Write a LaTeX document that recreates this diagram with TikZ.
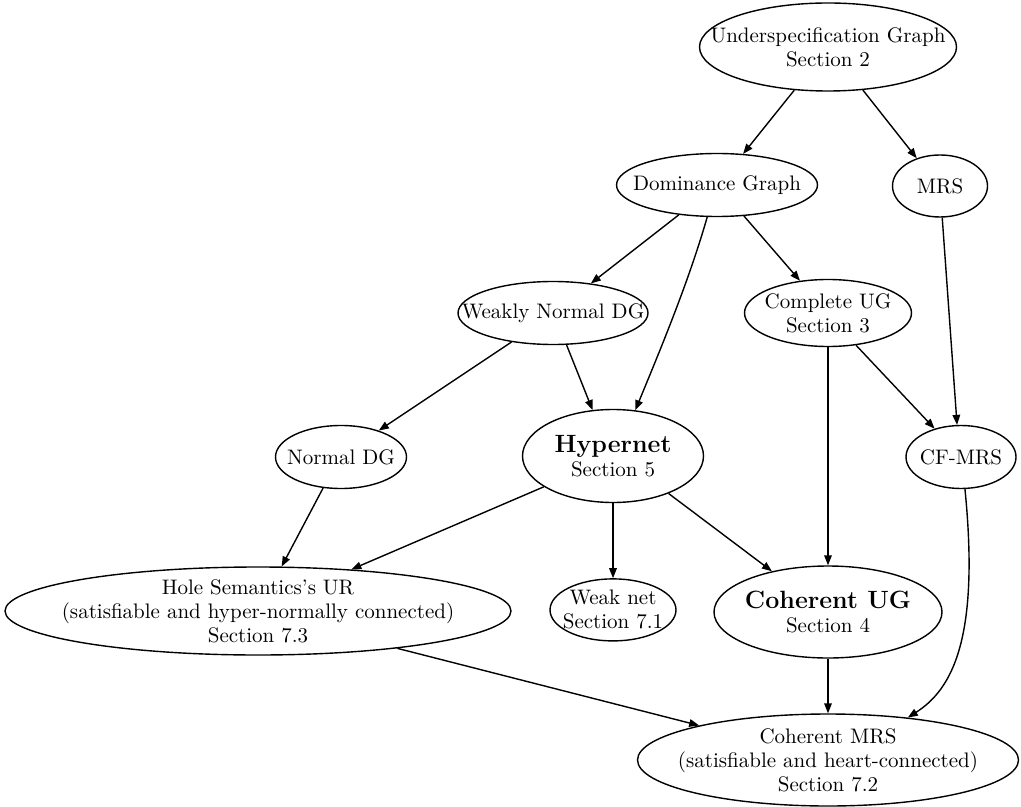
\documentclass[tikz,border=0pt]{standalone}
\usepackage{amsmath}
\usetikzlibrary{arrows.meta,shapes.geometric,positioning}

\tikzset{
	topic/.style={draw, ellipse, align=center, inner sep=-30pt, line width=0.7pt,
		font=\fontsize{10.5}{12}\selectfont},
	dep/.style={-{Triangle[length=5pt,width=3.8pt]}, line width=0.7pt},
}
\newcommand{\keyname}[1]{{\fontsize{12.5}{14}\selectfont\bfseries #1}}

\begin{document}
\begin{tikzpicture}[x=0.5pt,y=-0.5pt]
		\useasboundingbox (0,0) rectangle (1021,807);
		%
		\node[topic,minimum width=128.5pt,minimum height=44pt] at (828,47) (ug) {Underspecification Graph\\Section 2};
		\node[topic,minimum width=100.5pt,minimum height=31.5pt] at (717,185) (dg) {Dominance Graph};
		\node[topic,minimum width=47.5pt,minimum height=31pt] at (940,186) (mrs) {MRS};
		\node[topic,minimum width=95pt,minimum height=31.5pt] at (553,313) (wndg) {Weakly Normal DG};
		\node[topic,minimum width=83.5pt,minimum height=33.5pt] at (828,313) (cug) {Complete UG\\Section 3};
		\node[topic,minimum width=65.5pt,minimum height=31.5pt] at (341,457) (ndg) {Normal DG};
		\node[topic,minimum width=90.5pt,minimum height=46.5pt] at (613,456) (hyp) {\keyname{Hypernet}\\Section 5};
		\node[topic,minimum width=55pt,minimum height=31.5pt] at (961,457) (cfmrs) {CF-MRS};
		\node[topic,minimum width=253pt,minimum height=44pt] at (258,611) (hsur) {Hole Semantics's UR\\(satisfiable and hyper-normally connected)\\Section 7.3};
		\node[topic,minimum width=63pt,minimum height=31pt,below=37.5pt of hyp] (weak) {Weak net\\Section 7.1};
		\node[topic,minimum width=114pt,minimum height=46pt] at (828,612) (cohug) {\keyname{Coherent UG}\\Section 4};
		\node[topic,minimum width=190.5pt,minimum height=46pt] at (828,760) (cohmrs) {Coherent MRS\\(satisfiable and heart-connected)\\Section 7.2};
		%
		\draw[dep] (ug.232) -- (dg.50);
		\draw[dep] (ug.309) -- (mrs.130);
		\draw[dep] (dg.218) -- (wndg.38);
		\draw[dep] (dg.253) .. controls +(-18,63) and +(26,-63) .. (hyp.64);
		\draw[dep] (dg.311) -- (cug.131);
		\draw[dep] (mrs.274) -- (cfmrs.97);
		\draw[dep] (wndg.215) -- (ndg.35);
		\draw[dep] (wndg.293) -- (hyp.114);
		\draw[dep] (cug.311) -- (cfmrs.133);
		\draw[dep] (cug) -- (cohug);
		\draw[dep] (ndg.240) -- (hsur.62);
		\draw[dep] (hyp.204) -- (hsur.24);
		\draw[dep] (hyp) -- (weak);
		\draw[dep] (hyp.326) -- (cohug.144);
		\draw[dep] (cfmrs.277) .. controls +(15,150) and +(44,-28) .. (cohmrs.28);
		\draw[dep] (hsur.345) -- (cohmrs.165);
		\draw[dep] (cohug) -- (cohmrs);
\end{tikzpicture}
\end{document}
